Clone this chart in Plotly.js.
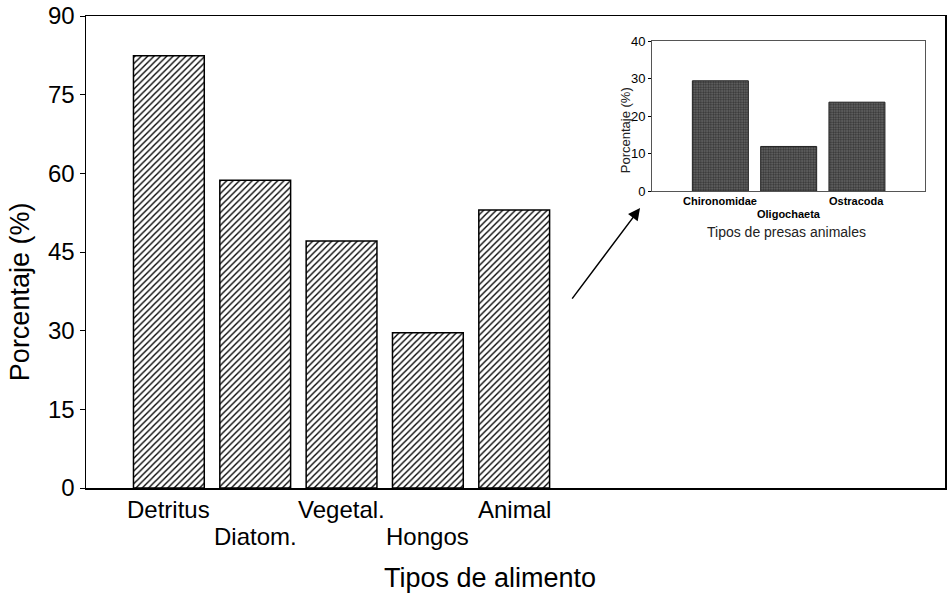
<!DOCTYPE html>
<html><head><meta charset="utf-8">
<script src="https://cdn.plot.ly/plotly-3.0.1.min.js"></script>
<style>html,body{margin:0;padding:0;background:#fff}#c{width:948px;height:594px}</style>
</head><body><div id="c"></div>
<script>
const categories = ["Detritus","Diatom.","Vegetal.","Hongos","Animal"];
const values = [82.4, 58.7, 47.1, 29.6, 53.0];
const yTicks = [0,15,30,45,60,75,90];
const preyCategories = ["Chironomidae","Oligochaeta","Ostracoda"];
const preyValues = [29.4, 11.9, 23.7];
const preyTicks = [0,10,20,30,40];

const F = "Liberation Sans, Arial, sans-serif";
const idx = categories.map((c,i)=>i);
const pidx = preyCategories.map((c,i)=>i);

const traces = [
 {type:'bar', x: idx, y: values, width:0.82, xaxis:'x', yaxis:'y',
  marker:{color:'#fff', line:{color:'#000', width:1.5},
    pattern:{shape:'/', fgcolor:'#000', bgcolor:'#fff', size:4.5, solidity:0.3}},
  hoverinfo:'skip'},
 {type:'bar', x: pidx, y: preyValues, width:0.82, xaxis:'x2', yaxis:'y2',
  marker:{color:'#555', line:{color:'#222', width:1},
    pattern:{shape:'.', fgcolor:'#333', bgcolor:'#6a6a6a', size:2.5, solidity:0.5}},
  hoverinfo:'skip'}
];

const annotations = [];
categories.forEach((c,i)=>{
  annotations.push({x:i, xref:'x', xanchor:'center', y: i%2===0 ? -0.0466 : -0.1038, yref:'paper', yanchor:'middle',
    text:c, showarrow:false, font:{family:F, size:24, color:'#000'}});
});
preyCategories.forEach((c,i)=>{
  annotations.push({x:i, xref:'x2', xanchor:'center', y: i%2===0 ? 0.6087 : 0.580, yref:'paper', yanchor:'middle',
    text:'<b>'+c+'</b>', showarrow:false, font:{family:F, size:11, color:'#000'}});
});
annotations.push({x:0.47, xref:'paper', xanchor:'center', y:-0.1907, yref:'paper', yanchor:'middle', text:'Tipos de alimento',
  showarrow:false, font:{family:F, size:27, color:'#000'}});
annotations.push({x:-0.0768, xref:'paper', xanchor:'center', y:0.415, yref:'paper', yanchor:'middle', text:'Porcentaje (%)',
  textangle:-90, showarrow:false, font:{family:F, size:27, color:'#000'}});
annotations.push({x:0.816, xref:'paper', xanchor:'center', y:0.542, yref:'paper', yanchor:'middle', text:'Tipos de presas animales',
  showarrow:false, font:{family:F, size:14, color:'#222'}});
annotations.push({x:0.6275, xref:'paper', xanchor:'center', y:0.758, yref:'paper', yanchor:'middle', text:'Porcentaje (%)',
  textangle:-90, showarrow:false, font:{family:F, size:13, color:'#222'}});
annotations.push({x:0.645, xref:'paper', y:0.593, yref:'paper', text:'', showarrow:true,
  ax:-69, ay:92, arrowhead:2, arrowsize:1.6, arrowwidth:1.5, arrowcolor:'#000'});

const layout = {
  width:948, height:594, margin:{l:86, r:3, t:16, b:106},
  paper_bgcolor:'#fff', plot_bgcolor:'#fff', showlegend:false,
  xaxis:{range:[-0.96, 8.99], showticklabels:false, ticks:'', showgrid:false, zeroline:false,
    showline:true, mirror:true, linecolor:'#000', linewidth:1.5, fixedrange:true},
  yaxis:{range:[0,90], tickvals:yTicks, ticks:'outside', ticklen:5, tickcolor:'#000',
    showgrid:false, zeroline:false, showline:true, mirror:true, linecolor:'#000', linewidth:1.5,
    tickfont:{family:F, size:24, color:'#000'}, fixedrange:true},
  xaxis2:{domain:[0.659,0.977], anchor:'y2', range:[-1,3], showticklabels:false, ticks:'',
    showgrid:false, zeroline:false, showline:true, mirror:true, linecolor:'#555', linewidth:1, fixedrange:true},
  yaxis2:{domain:[0.629,0.947], anchor:'x2', range:[0,40], tickvals:preyTicks, ticks:'outside', ticklen:3,
    tickcolor:'#000', showgrid:false, zeroline:false, showline:true, mirror:true, linecolor:'#555', linewidth:1,
    tickfont:{family:F, size:13, color:'#000'}, fixedrange:true},
  annotations: annotations
};
Plotly.newPlot('c', traces, layout, {displayModeBar:false, staticPlot:true});
</script></body></html>
